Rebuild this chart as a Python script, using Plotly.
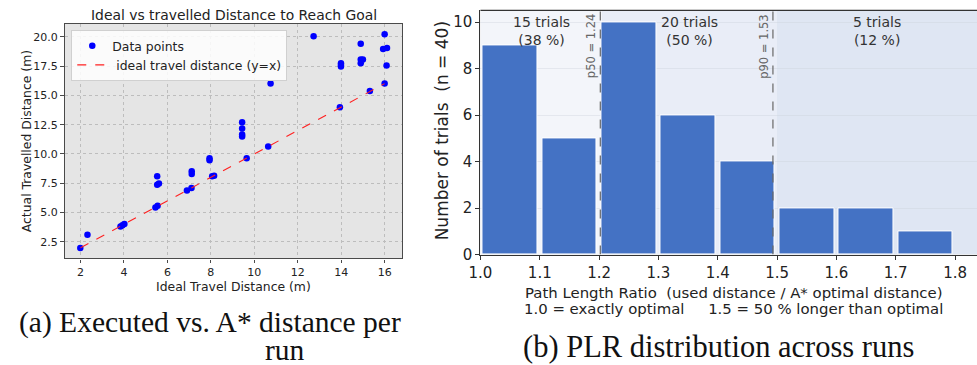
import plotly.graph_objects as go

# ---------------- data: left scatter ----------------
ideal_dist = [12.73, 16.00, 14.90, 15.93, 16.11, 14.90, 15.00, 14.90, 13.99, 13.99,
              13.99, 16.09, 10.75, 16.00, 15.32, 13.94, 9.44, 9.44, 9.44, 9.44,
              9.65, 7.94, 7.94, 8.15, 8.06, 7.12, 7.12, 7.11, 6.90, 5.53,
              5.53, 5.61, 5.45, 5.55, 3.84, 3.93, 4.02, 2.32, 1.99, 10.64]
actual_dist = [20.03, 20.22, 19.39, 18.95, 19.03, 18.06, 18.06, 17.73, 17.73, 17.59,
               17.45, 17.54, 16.00, 16.00, 15.37, 13.98, 12.71, 12.18, 11.65, 11.48,
               9.63, 9.63, 9.46, 8.13, 8.10, 8.52, 8.30, 7.10, 6.88, 8.10,
               7.38, 7.47, 5.44, 5.58, 3.81, 3.91, 4.02, 3.10, 1.98, 10.63]
ideal_line = [2, 16]
x_ticks_a = [2, 4, 6, 8, 10, 12, 14, 16]
y_ticks_a = [2.5, 5.0, 7.5, 10.0, 12.5, 15.0, 17.5, 20.0]

# ---------------- data: right histogram ----------------
bin_edges = [1.0, 1.1, 1.2, 1.3, 1.4, 1.5, 1.6, 1.7, 1.8]
counts = [9, 5, 10, 6, 4, 2, 2, 1]
region_bounds = [1.0, 1.205, 1.5, 1.837]
region_labels = ["15 trials<br>(38 %)", "20 trials<br>(50 %)", "5 trials<br>(12 %)"]
p50_pos, p50_label = 1.202, "p50 = 1.24"
p90_pos, p90_label = 1.493, "p90 = 1.53"
x_ticks_b = [1.0, 1.1, 1.2, 1.3, 1.4, 1.5, 1.6, 1.7, 1.8]
y_ticks_b = [0, 2, 4, 6, 8, 10]

bin_centers = [(a + b) / 2 for a, b in zip(bin_edges[:-1], bin_edges[1:])]

W, H = 977, 365
FONT = "DejaVu Sans"

def px_x(p):
    return p / W

def px_y(p):
    return 1 - p / H

fig = go.Figure()

fig.add_trace(go.Scatter(
    x=ideal_dist, y=actual_dist, mode="markers", name="Data points",
    marker=dict(color="#0000ff", size=6.5, line=dict(width=0)),
    xaxis="x", yaxis="y"))
fig.add_trace(go.Scatter(
    x=ideal_line, y=ideal_line, mode="lines", name=" ideal travel distance (y=x)",
    line=dict(color="#ff2020", width=1.1, dash="dash"),
    xaxis="x", yaxis="y"))

fig.add_trace(go.Bar(
    x=bin_centers, y=counts, width=0.092, showlegend=False,
    marker=dict(color="#4472c4", line=dict(color="#ffffff", width=1)),
    xaxis="x2", yaxis="y2"))

shapes = []
region_colors = ["#f3f5fa", "#e9edf7", "#dfe6f3"]
for i in range(3):
    shapes.append(dict(type="rect", xref="x2", yref="y2", layer="below",
                       x0=region_bounds[i], x1=region_bounds[i + 1], y0=0, y1=10.5,
                       fillcolor=region_colors[i], line=dict(width=0)))
for pos in (p50_pos, p90_pos):
    shapes.append(dict(type="line", xref="x2", yref="y2", layer="above",
                       x0=pos, x1=pos, y0=0, y1=10.5,
                       line=dict(color="#666666", width=1.2, dash="dash")))
# top spine of histogram
shapes.append(dict(type="line", xref="paper", yref="paper", layer="above",
                   x0=px_x(474.3), x1=1.0, y0=px_y(10.7), y1=px_y(10.7),
                   line=dict(color="#333333", width=1.2)))

annotations = []

def txt(text, x, y, size, family=FONT, color="#222", angle=0):
    annotations.append(dict(text=text, x=px_x(x), y=px_y(y), xref="paper", yref="paper",
                            xanchor="center", yanchor="middle", showarrow=False,
                            textangle=angle, font=dict(family=family, size=size, color=color)))

# left panel title and axis titles
txt("Ideal vs travelled Distance to Reach Goal", 224.5, 15, 13.9)
txt("Ideal Travel Distance (m)", 224.5, 294, 12.4)
txt("Actual Travelled Distance (m)", 15, 145, 12.4, angle=-90)
# right panel axis titles
txt("Number of trials\u00a0\u00a0(n = 40)", 435, 134, 17, angle=-90)
txt("Path Length Ratio\u00a0\u00a0(used distance / A* optimal distance)", 730, 300, 14.9)
txt("1.0 = exactly optimal\u00a0\u00a0\u00a0\u00a0\u00a01.5 = 50 % longer than optimal", 730, 317, 14.9)
# region labels
for i, lab in enumerate(region_labels):
    cx = (region_bounds[i] + region_bounds[i + 1]) / 2
    annotations.append(dict(text=lab, x=cx, y=10.45, xref="x2", yref="y2",
                            xanchor="center", yanchor="top", showarrow=False,
                            font=dict(family=FONT, size=14, color="#333")))
# percentile labels
for pos, lab in ((p50_pos, p50_label), (p90_pos, p90_label)):
    annotations.append(dict(text=lab, x=pos, y=10.46, xref="x2", yref="y2",
                            xanchor="right", yanchor="top", xshift=0, showarrow=False,
                            textangle=-90, font=dict(family=FONT, size=11.5, color="#666")))
# captions
CAP = "Liberation Serif"
txt("(a) Executed vs. A* distance per", 200, 331, 29.5, family=CAP, color="#111")
txt("run", 276, 359, 29.5, family=CAP, color="#111")
txt("(b) PLR distribution across runs", 715, 356, 30.5, family=CAP, color="#111")

fig.update_layout(
    width=W, height=H, margin=dict(l=0, r=0, t=0, b=0),
    paper_bgcolor="white", plot_bgcolor="#e5e5e5",
    showlegend=True,
    legend=dict(x=px_x(60), y=px_y(31), xanchor="left", yanchor="top",
                bgcolor="rgba(255,255,255,0.85)", bordercolor="#d0d0d0", borderwidth=1,
                font=dict(family=FONT, size=12.4, color="#222"),
                tracegroupgap=0, itemwidth=30),
    xaxis=dict(domain=[px_x(53.3), px_x(395.3)], range=[1.27, 16.82],
               tickvals=x_ticks_a, ticktext=[str(v) for v in x_ticks_a],
               showgrid=True, gridcolor="#bdbdbd", griddash="dot", gridwidth=1,
               showline=True, mirror=True, linecolor="#4a4a4a", linewidth=1.2,
               ticks="outside", ticklen=3.5, tickcolor="#4a4a4a",
               tickfont=dict(family=FONT, size=11, color="#222"), zeroline=False,
               anchor="y"),
    yaxis=dict(domain=[px_y(265), px_y(24.3)], range=[1.085, 21.11],
               tickvals=y_ticks_a, ticktext=[f"{v:.1f}" for v in y_ticks_a],
               showgrid=True, gridcolor="#bdbdbd", griddash="dot", gridwidth=1,
               showline=True, mirror=True, linecolor="#4a4a4a", linewidth=1.2,
               ticks="outside", ticklen=3.5, tickcolor="#4a4a4a",
               tickfont=dict(family=FONT, size=11, color="#222"), zeroline=False,
               anchor="x"),
    xaxis2=dict(domain=[px_x(474.3), 1.0], range=[1.0, 1.837],
                tickvals=x_ticks_b, ticktext=[f"{v:.1f}" for v in x_ticks_b],
                showgrid=False, showline=True, linecolor="#333", linewidth=1.2,
                ticks="outside", ticklen=4, tickcolor="#333",
                tickfont=dict(family=FONT, size=15, color="#222"), zeroline=False,
                anchor="y2"),
    yaxis2=dict(domain=[px_y(261), px_y(10.7)], range=[0, 10.5],
                tickvals=y_ticks_b, ticktext=[str(v) for v in y_ticks_b],
                showgrid=True, gridcolor="rgba(200,205,215,0.35)", gridwidth=1,
                showline=True, linecolor="#333", linewidth=1.2,
                ticks="outside", ticklen=4, tickcolor="#333",
                tickfont=dict(family=FONT, size=15, color="#222"), zeroline=False,
                anchor="x2"),
    shapes=shapes, annotations=annotations, bargap=0,
)

fig.write_html("out.html")
